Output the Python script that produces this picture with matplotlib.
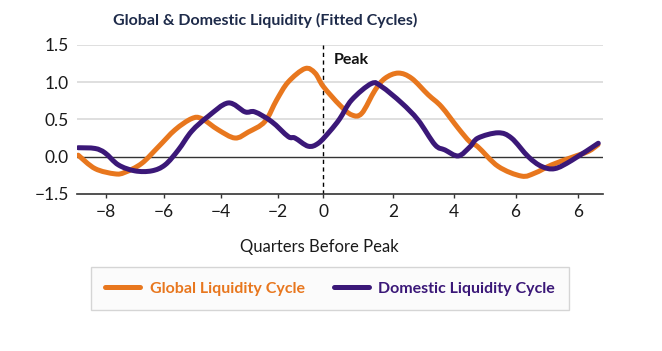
import matplotlib
matplotlib.use("Agg")
import matplotlib.pyplot as plt
from matplotlib.lines import Line2D
from matplotlib.path import Path
from matplotlib.patches import PathPatch

# Quarters relative to peak
global_x = [-8.93, -8.36, -7.69, -7.35, -6.78, -6.22, -5.65, -5.09, -4.75, -4.19,
            -3.62, -3.17, -2.61, -2.21, -1.82, -1.25, -0.91, -0.63, -0.07, 0.33,
            0.67, 1.12, 1.46, 1.91, 2.36, 2.92, 3.37, 3.94, 4.33, 4.61,
            5.29, 6.08, 6.53, 7.10, 7.78, 8.34, 8.67]
global_y = [0.02, -0.16, -0.23, -0.21, -0.09, 0.13, 0.36, 0.51, 0.51, 0.36,
            0.25, 0.33, 0.47, 0.76, 1.00, 1.18, 1.12, 0.94, 0.69, 0.56,
            0.58, 0.89, 1.05, 1.12, 1.05, 0.83, 0.67, 0.38, 0.20, 0.13,
            -0.13, -0.26, -0.22, -0.11, -0.01, 0.07, 0.16]

domestic_x = [-8.93, -8.36, -8.02, -7.57, -7.01, -6.44, -5.99, -5.54, -5.09, -4.53,
              -3.85, -3.28, -2.95, -2.38, -1.82, -1.59, -1.14, -0.80, -0.41, -0.07,
              0.33, 1.00, 1.34, 2.02, 2.58, 3.15, 3.49, 3.94, 4.33, 4.61,
              5.29, 5.74, 6.31, 6.76, 7.21, 7.78, 8.68]
domestic_y = [0.12, 0.11, 0.05, -0.11, -0.19, -0.19, -0.11, 0.09, 0.34, 0.54,
              0.72, 0.60, 0.60, 0.47, 0.27, 0.25, 0.14, 0.18, 0.34, 0.51,
              0.76, 0.98, 0.94, 0.72, 0.49, 0.16, 0.09, 0.01, 0.13, 0.25,
              0.32, 0.25, 0.00, -0.13, -0.16, -0.05, 0.18]

# axis labelling as printed on the original
x_ticks = [-8, -6.03, -4.10, -2.18, -0.63, 1.74, 3.79, 5.88, 8.0]
x_ticklabels = ["\u22128", "\u22126", "\u22124", "\u22122", "0", "2", "4", "6", "6"]
y_ticks = [-0.5, 0.0, 0.5, 1.0, 1.5]
y_ticklabels = ["\u22121.5", "0.0", "0.5", "1.0", "1.5"]
peak_x = -0.63

orange = "#E8771E"
purple = "#3B1878"
navy = "#1E2B4A"
fonts = ["Lato", "DejaVu Sans"]
plt.rcParams["font.family"] = fonts


def smooth_path(xs, ys):
    # cubic bezier through the read points (drawing style only)
    pts = list(zip(xs, ys))
    verts = [pts[0]]
    codes = [Path.MOVETO]
    n = len(pts)
    for i in range(n - 1):
        p0 = pts[max(i - 1, 0)]
        p1 = pts[i]
        p2 = pts[i + 1]
        p3 = pts[min(i + 2, n - 1)]
        c1 = (p1[0] + (p2[0] - p0[0]) / 6, p1[1] + (p2[1] - p0[1]) / 6)
        c2 = (p2[0] - (p3[0] - p1[0]) / 6, p2[1] - (p3[1] - p1[1]) / 6)
        verts += [c1, c2, p2]
        codes += [Path.CURVE4] * 3
    return Path(verts, codes)


fig = plt.figure(figsize=(6.62, 3.51), dpi=100)
ax = fig.add_axes([0.1168, 0.4473, 0.7945, 0.4253])

for yv in [0.5, 1.0, 1.5]:
    ax.axhline(yv, color="#D9D9D9", lw=1.2, zorder=1)
ax.axhline(0.0, color="#333333", lw=1.0, zorder=1)
ax.axvline(peak_x, color="black", lw=1.0, ls=(0, (3, 2.5)), zorder=2)

for xs, ys, c, z in [(global_x, global_y, orange, 3), (domestic_x, domestic_y, purple, 4)]:
    ax.add_patch(PathPatch(smooth_path(xs, ys), facecolor="none", edgecolor=c,
                           lw=3.6, capstyle="round", joinstyle="round", zorder=z))

ax.set_xlim(-8.96, 8.85)
ax.set_ylim(-0.5, 1.5)
ax.set_xticks(x_ticks)
ax.set_xticklabels(x_ticklabels)
ax.set_yticks(y_ticks)
ax.set_yticklabels(y_ticklabels)
ax.tick_params(axis="x", length=3, width=1, color="#333333", labelsize=12.5, pad=4,
               labelcolor="#1a1a1a")
ax.tick_params(axis="y", length=0, labelsize=12.5, pad=6, labelcolor="#1a1a1a")
for s in ["top", "right", "left"]:
    ax.spines[s].set_visible(False)
ax.spines["bottom"].set_color("#333333")
ax.spines["bottom"].set_linewidth(1.2)

ax.set_xlabel("Quarters Before Peak", fontsize=12, color="#1a1a1a")
ax.xaxis.set_label_coords(0.46, -0.30)

ax.text(peak_x + 0.35, 1.30, "Peak", fontsize=11.5, fontweight="bold", color="#111111",
        ha="left", va="center")

fig.text(0.40, 0.942, "Global & Domestic Liquidity (Fitted Cycles)", fontsize=11.5,
         fontweight="bold", color=navy, ha="center", va="center")

handles = [Line2D([], [], color=orange, lw=3.6, solid_capstyle="round"),
           Line2D([], [], color=purple, lw=3.6, solid_capstyle="round")]
leg = fig.legend(handles, ["Global Liquidity Cycle", "Domestic Liquidity Cycle"],
                 loc="center", bbox_to_anchor=(0.4987, 0.178), ncol=2, frameon=True,
                 fancybox=False, handlelength=2.2, handletextpad=0.6,
                 columnspacing=1.8, borderpad=0.9,
                 prop={"family": fonts, "weight": "bold", "size": 11.5})
leg.get_frame().set_edgecolor("#CCCCCC")
leg.get_frame().set_facecolor("#FAFAFA")
leg.get_frame().set_linewidth(1.0)
for t, c in zip(leg.get_texts(), [orange, purple]):
    t.set_color(c)

fig.savefig("out.png", dpi=100)
